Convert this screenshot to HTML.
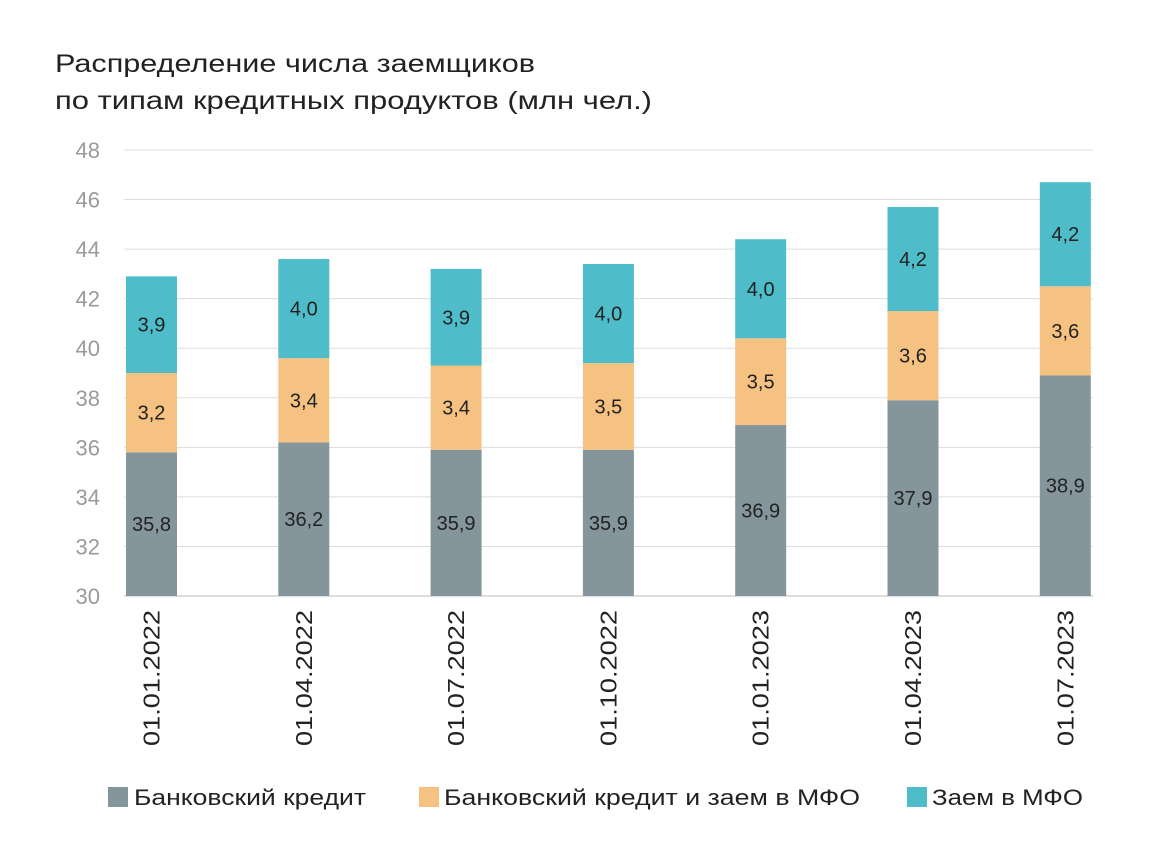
<!DOCTYPE html>
<html><head><meta charset="utf-8">
<style>
body{margin:0;background:#fff;width:1170px;height:845px;overflow:hidden;font-family:"Liberation Sans",sans-serif;}
</style></head>
<body>
<svg id="chart" width="1170" height="845" xmlns="http://www.w3.org/2000/svg" font-family="Liberation Sans, sans-serif">
<text x="55" y="72" font-size="25" fill="#222" textLength="480" lengthAdjust="spacingAndGlyphs">Распределение числа заемщиков</text>
<text x="55" y="109" font-size="25" fill="#222" textLength="597" lengthAdjust="spacingAndGlyphs">по типам кредитных продуктов (млн чел.)</text>
<g id="grid"></g><g id="bars"></g><g id="xlabels"></g>
<g>
<rect x="108" y="787" width="20" height="20" fill="#84969c"/>
<text x="134" y="805" font-size="22" fill="#222" textLength="232" lengthAdjust="spacingAndGlyphs">Банковский кредит</text>
<rect x="419" y="787" width="20" height="20" fill="#f5c282"/>
<text x="444" y="805" font-size="22" fill="#222" textLength="416" lengthAdjust="spacingAndGlyphs">Банковский кредит и заем в МФО</text>
<rect x="907" y="787" width="20" height="20" fill="#4fbcc9"/>
<text x="932" y="805" font-size="22" fill="#222" textLength="151" lengthAdjust="spacingAndGlyphs">Заем в МФО</text>
</g>
</svg>
<script>
const categories=["01.01.2022","01.04.2022","01.07.2022","01.10.2022","01.01.2023","01.04.2023","01.07.2023"];
const bankCredit=[35.8,36.2,35.9,35.9,36.9,37.9,38.9];
const bankAndMfo=[3.2,3.4,3.4,3.5,3.5,3.6,3.6];
const mfoLoan=[3.9,4.0,3.9,4.0,4.0,4.2,4.2];
const yTicks=[30,32,34,36,38,40,42,44,46,48];
const NS="http://www.w3.org/2000/svg";
const y=v=>596-(v-30)*(446/18);
const xc=i=>151.5+i*152.3;
const bw=51;
function mk(tag,attrs,parent){const e=document.createElementNS(NS,tag);for(const k in attrs)e.setAttribute(k,attrs[k]);parent.appendChild(e);return e;}
const grid=document.getElementById('grid');
yTicks.forEach(t=>{
  const l=mk('line',{x1:124,x2:1093,y1:y(t),y2:y(t),stroke:t===30?'#bbb':'#ddd','stroke-width':1},grid);
  
  
  const tx=mk('text',{x:100,y:y(t)+8,'font-size':22,'text-anchor':'end',fill:'#9a9a9a'},grid);
  tx.textContent=t;
  
  
});
const bars=document.getElementById('bars');
const series=[[bankCredit,'#84969c','bank'],[bankAndMfo,'#f5c282','both'],[mfoLoan,'#4fbcc9','mfo']];
categories.forEach((c,i)=>{
  let base=30;
  series.forEach(([arr,col,nm],s)=>{
    const v=arr[i];
    const bot=s===0?30:base; const top=s===0?v:base+v;
    const r=mk('rect',{x:xc(i)-bw/2,y:y(top),width:bw,height:y(bot)-y(top),fill:col},bars);
    
    
    const t=mk('text',{x:xc(i),y:(y(top)+y(bot))/2+7,'font-size':20,'text-anchor':'middle',fill:'#222'},bars);
    t.textContent=v.toFixed(1).replace('.',',');
    
    
    base=top;
  });
  const xl=mk('text',{transform:`translate(${xc(i)+8},610) rotate(-90)`,'font-size':23,'text-anchor':'end',fill:'#222',textLength:136,lengthAdjust:'spacingAndGlyphs'},document.getElementById('xlabels'));
  xl.textContent=c;
  
  
});
</script>
</body></html>
